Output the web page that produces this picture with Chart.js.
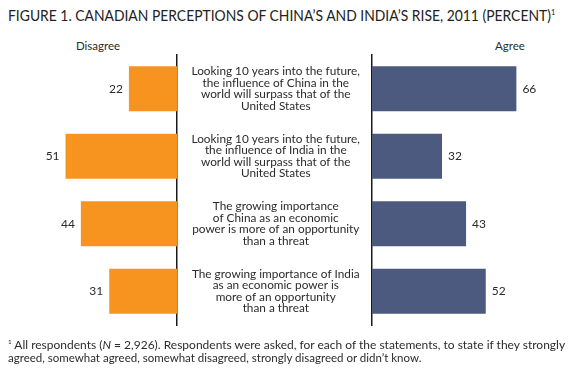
<!DOCTYPE html>
<html>
<head>
<meta charset="utf-8">
<script src="https://cdn.jsdelivr.net/npm/chart.js@4/dist/chart.umd.min.js"></script>
<style>
  html, body { margin:0; padding:0; background:#fff; }
  body { width:576px; height:373px; position:relative; overflow:hidden; font-family: Lato, "Open Sans", sans-serif; color:#2b2b2b; }
  .abs { position:absolute; white-space:nowrap; }
  #title { left:8px; top:6px; font-size:15px; font-family:"Liberation Sans Narrow", Lato, sans-serif; transform-origin:0 0; color:#222; }
  #title sup { font-size:8px; vertical-align: 6px; }
  .side { top:39px; font-size:11.5px; transform:translateX(-50%); }
  .foot { left:8px; font-size:11.5px; transform-origin:0 0; }
  .foot sup { font-size:6px; vertical-align:5px; }
  canvas { position:absolute; top:0; }
</style>
</head>
<body>
<div id="title" class="abs">FIGURE 1. CANADIAN PERCEPTIONS OF CHINA’S AND INDIA’S RISE, 2011 (PERCENT)<sup>1</sup></div>
<div class="abs side" style="left:98px">Disagree</div>
<div class="abs side" style="left:510px">Agree</div>
<canvas id="left" width="182" height="373" style="left:0px;width:182px;height:373px"></canvas>
<canvas id="right" width="396" height="373" style="left:180px;width:396px;height:373px"></canvas>
<div id="f1" class="abs foot" style="top:338px"><sup>1</sup> All respondents (<i>N</i> = 2,926). Respondents were asked, for each of the statements, to state if they strongly</div>
<div id="f2" class="abs foot" style="top:351px">agreed, somewhat agreed, somewhat disagreed, strongly disagreed or didn’t know.</div>
<script>
const statements = [
  ["Looking 10 years into the future,", "the influence of China in the", "world will surpass that of the", "United States"],
  ["Looking 10 years into the future,", "the influence of India in the", "world will surpass that of the", "United States"],
  ["The growing importance", "of China as an economic", "power is more of an opportunity", "than a threat"],
  ["The growing importance of India", "as an economic power is", "more of an opportunity", "than a threat"]
];
const disagree = [22, 51, 44, 31];
const agree = [66, 32, 43, 52];

const ORANGE = '#F7941F';
const BLUE = '#4B5A7E';
const AXIS = '#1a1a1a';

function fitWidth(id, w) {
  const el = document.getElementById(id);
  const cur = el.scrollWidth;
  el.style.transform = 'scaleX(' + (w / cur) + ')';
}
fitWidth('title', 547);
fitWidth('f1', 557);

const valueLabels = {
  id: 'valueLabels',
  afterDatasetsDraw(chart, args, opts) {
    const ctx = chart.ctx;
    const meta = chart.getDatasetMeta(0);
    const data = chart.data.datasets[0].data;
    ctx.save();
    ctx.font = '12px Lato, "Open Sans", sans-serif';
    ctx.fillStyle = '#2b2b2b';
    ctx.textBaseline = 'middle';
    meta.data.forEach((el, i) => {
      if (opts.side === 'left') {
        ctx.textAlign = 'right';
        ctx.fillText(String(data[i]), el.x - 6, el.y);
      } else {
        ctx.textAlign = 'left';
        ctx.fillText(String(data[i]), el.x + 6, el.y);
      }
    });
    ctx.restore();
  }
};

Chart.defaults.font.family = 'Lato, "Open Sans", sans-serif';

new Chart(document.getElementById('left'), {
  type: 'bar',
  data: {
    labels: statements,
    datasets: [{ data: disagree, backgroundColor: ORANGE, borderWidth: 0,
                 categoryPercentage: 1, barPercentage: 0.667 }]
  },
  options: {
    indexAxis: 'y',
    responsive: false,
    animation: false,
    devicePixelRatio: 1,
    layout: { padding: { top: 55, bottom: 48, left: 0, right: 0 } },
    plugins: { legend: { display: false }, tooltip: { enabled: false }, valueLabels: { side: 'left' } },
    scales: {
      x: { display: false, reverse: true, min: 0, max: 81 },
      y: {
        position: 'right',
        grid: { display: false },
        border: { display: true, color: AXIS, width: 1.5 },
        ticks: { display: false },
        afterFit(s) { s.width = 5; }
      }
    }
  },
  plugins: [valueLabels]
});

new Chart(document.getElementById('right'), {
  type: 'bar',
  data: {
    labels: statements,
    datasets: [{ data: agree, backgroundColor: BLUE, borderWidth: 0,
                 categoryPercentage: 1, barPercentage: 0.667 }]
  },
  options: {
    indexAxis: 'y',
    responsive: false,
    animation: false,
    devicePixelRatio: 1,
    layout: { padding: { top: 55, bottom: 48, left: 0, right: 29 } },
    plugins: { legend: { display: false }, tooltip: { enabled: false }, valueLabels: { side: 'right' } },
    scales: {
      x: { display: false, min: 0, max: 80 },
      y: {
        position: 'left',
        grid: { display: false, drawTicks: false },
        border: { display: true, color: AXIS, width: 1.5 },
        ticks: { color: '#2b2b2b', font: { size: 11.8, lineHeight: 0.98 }, crossAlign: 'center', padding: 12, autoSkip: false },
        afterFit(s) { s.width = 192; }
      }
    }
  },
  plugins: [valueLabels]
});
</script>
</body>
</html>
